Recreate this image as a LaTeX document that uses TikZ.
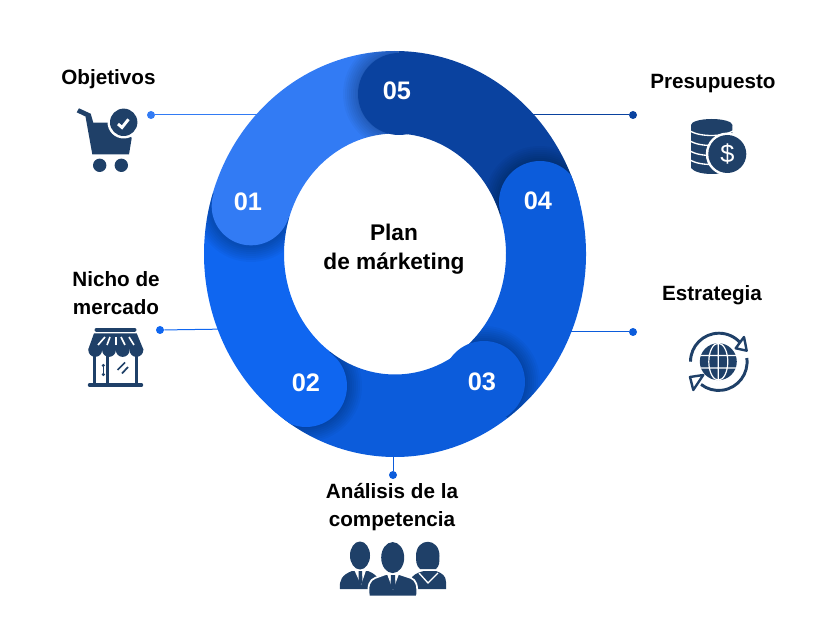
\documentclass[tikz,border=0pt]{standalone}
\usepackage{fontspec}
\setmainfont{Liberation Sans}
\usetikzlibrary{positioning,calc}
\definecolor{bandA}{HTML}{327BF4}
\definecolor{bandB}{HTML}{0F66F0}
\definecolor{bandC}{HTML}{0C5CDB}
\definecolor{bandE}{HTML}{0A429F}
\definecolor{iconblue}{HTML}{1F4068}
\tikzstyle{heading} = [align=center, inner sep=0pt, font=\bfseries\fontsize{15.5}{21}\selectfont]
\tikzstyle{title} = [align=center, inner sep=0pt, font=\bfseries\fontsize{17}{21.5}\selectfont]
\tikzstyle{number} = [inner sep=0pt, text=white, font=\bfseries\fontsize{19}{21}\selectfont]
\tikzstyle{bandcap} = [circle, inner sep=0pt, minimum size=61.5pt]
\tikzstyle{dot} = [circle, inner sep=0pt, minimum size=6pt]
\tikzstyle{line} = [draw, line width=0.75pt]
\tikzstyle{icon} = [fill=iconblue, draw=none]
% outline of one piece of the ring, start and end angle
\newcommand{\bandpath}[2]{
  (395,254) ++(#1:191 and 203) arc[start angle=#1, end angle=#2, x radius=191, y radius=203]
    -- ($(395,254)+(#2:111 and 120.5)$) arc[start angle=#2, end angle=#1, x radius=111, y radius=120.5] -- cycle
}
% soft shadow of a cap on the piece before it
\newcommand{\capshadow}[4]{
  \begin{scope}
    \clip \bandpath{#3}{#4};
    \foreach \rr in {42,44,...,56}
      \fill[black, opacity=0.03] (#1,#2) circle (\rr);
  \end{scope}
}
\begin{document}
\begin{tikzpicture}[x=0.75pt, y=-0.75pt]
    \useasboundingbox (0,0) rectangle (826,631);
    % Place dots and line ends
    \node [dot, fill=bandA] (d1) at (151,115) {};
    \node [dot, fill=bandB] (d2) at (160,330) {};
    \node [dot, fill=bandC] (d3) at (393,475) {};
    \node [dot, fill=bandC] (d4) at (633,332) {};
    \node [dot, fill=bandE] (d5) at (633,115) {};
    \coordinate (e1) at (270,115);
    \coordinate (e2) at (230,329);
    \coordinate (e3) at (393,445);
    \coordinate (e4) at (560,332);
    \coordinate (e5) at (520,115);
    % Draw edges
    \path [line, draw=bandA] (d1) -- (e1);
    \path [line, draw=bandB] (d2) -- (e2);
    \path [line, draw=bandC] (d3) -- (e3);
    \path [line, draw=bandC] (d4) -- (e4);
    \path [line, draw=bandE] (d5) -- (e5);
    % the ring
    \fill [bandA] \bandpath{197.5}{271};
    \fill [bandE] \bandpath{271}{341};
    \fill [bandC] \bandpath{341}{414};
    \fill [bandC] \bandpath{54}{126};
    \fill [bandB] \bandpath{126}{197.5};
    \capshadow{251}{206}{126}{197.5}
    \capshadow{399}{94}{197.5}{271}
    \capshadow{540}{202}{271}{341}
    \capshadow{484}{382}{341}{414}
    \capshadow{306}{386}{54}{126}
    \begin{scope}
      \clip (395,254) ellipse [x radius=191, y radius=203];
      \node [bandcap, fill=bandA, minimum size=59pt] (c1) at (251,206) {};
      \node [bandcap, fill=bandB] (c2) at (306,386) {};
      \node [bandcap, fill=bandC] (c3) at (484,382) {};
      \node [bandcap, fill=bandC] (c4) at (540,202) {};
      \node [bandcap, fill=bandE] (c5) at (399,94) {};
    \end{scope}
    \node [number] (n1) at (248,202) {01};
    \node [number] (n2) at (306,383) {02};
    \node [number] (n3) at (482,382) {03};
    \node [number] (n4) at (538,201) {04};
    \node [number] (n5) at (397,91) {05};
    % texts
    \node [title] (plan) at (394,249) {Plan\\de márketing};
    \node [heading] (t1) at (108.5,79) {Objetivos};
    \node [heading] (t2) at (116,293) {Nicho de\\mercado};
    \node [heading] (t3) at (392,507) {Análisis de la\\competencia};
    \node [heading] (t4) at (712,295) {Estrategia};
    \node [heading] (t5) at (713,84) {Presupuesto};
    % cart
    \fill [icon] (76.7,112.3) -- (79,108.3) -- (90.7,113.7) -- (93.3,122.7) -- (125,122.7) -- (131.7,138.3)
        -- (129,154.3) -- (92.3,154.3) -- (85.5,116.5) -- cycle;
    \fill [white] (123.7,122.3) circle (16.2);
    \fill [icon] (123.7,122.3) circle (13.7);
    \draw [white, line width=2.2pt] (118,124) -- (122,127.5) -- (128.5,119.3);
    \fill [icon] (99.7,165.3) circle (6.7);
    \fill [icon] (121.3,165.3) circle (6.7);
    % store
    \draw [iconblue, line width=3pt, line cap=round] (96.5,329.7) -- (134.5,329.7);
    \fill [icon] (94,333.3) -- (136.7,333.3) -- (143.3,349.3) -- (88.3,349.3) -- cycle;
    \foreach \xa/\xb in {105/98, 110/107, 115.7/115.7, 121/125, 129/134}
      \draw [white, line width=1.2pt] (\xa,337) -- (\xb,345);
    \foreach \xc in {95.2,109,122.7,136.4}
      \fill [icon] (\xc-6.9,349) -- (\xc+6.9,349) -- (\xc+6.9,350) arc[start angle=0, end angle=180, radius=6.9] -- cycle;
    \fill [icon] (93.3,356) rectangle (96.2,385);
    \fill [icon] (106,356) rectangle (108.7,385);
    \fill [icon] (135,356) rectangle (138.3,385);
    \draw [iconblue, line width=2.6pt, line cap=round] (89.5,385) -- (141.5,385);
    \draw [iconblue, line width=1.2pt] (103.3,366) -- (103.3,374);
    \fill [icon] (103.3,365.5) circle (1.7) (103.3,374.5) circle (1.7);
    \draw [iconblue, line width=1.3pt] (117.5,370) -- (125,362.5) (122,373.5) -- (128,367);
    % people
    \fill [icon] (340,589) .. controls (339,580) and (342,575) .. (352,571) -- (368,571) .. controls (378,575) and (380,580) .. (380,589) -- cycle;
    \fill [icon] (360,555.5) ellipse [x radius=10, y radius=14];
    \fill [white] (354.5,570.5) -- (366,570.5) -- (361,585) -- cycle;
    \fill [icon] (358.5,571) -- (362,571) -- (362.5,582) -- (360.5,585) -- (358.5,582) -- cycle;
    \fill [icon] (412,589) -- (412,577) .. controls (416,573) and (420,572) .. (424,571) -- (436,571)
        .. controls (442,573) and (446,576) .. (446,582) -- (446,589) -- cycle;
    \fill [icon] (416,556) .. controls (416,537) and (439.5,537) .. (439.5,556) .. controls (439.5,562) and (439.5,566) .. (436,569) -- (420,569) .. controls (416,566) and (416,560) .. (416,556) -- cycle;
    \draw [white, line width=1pt] (419,573) -- (428,583) -- (438,573);
    \fill [icon, draw=white, line width=1.3pt] (369,596.5) .. controls (367,585) and (370,580) .. (375,578)
        -- (386,574) -- (399,574) -- (411,578) .. controls (416,580) and (418,585) .. (417,596.5) -- cycle;
    \fill [icon] (392.7,557.6) ellipse [x radius=11.5, y radius=15.5];
    \fill [white] (387,574) -- (399,574) -- (393,590) -- cycle;
    \fill [icon] (391,575) -- (395,575) -- (395.5,586) -- (393,590) -- (390.5,586) -- cycle;
    % coins
    \fill [icon] (691,125) -- (691,168) .. controls (697,176) and (726,176) .. (732.4,168) -- (732.4,125) -- cycle;
    \fill [icon] (711.7,125) ellipse [x radius=20.7, y radius=6];
    \foreach \yy in {131,141,151,160}
      \draw [white, line width=1pt] (690,\yy) .. controls (700,\yy+6) and (723,\yy+6) .. (733,\yy);
    \fill [white] (727.3,154) circle (21.5);
    \fill [icon] (727.3,154) circle (19);
    \node [inner sep=0pt, text=white, font=\fontsize{19}{21}\selectfont] (dollar) at (727.3,154) {\$};
    % globe
    \fill [icon] (718.3,361.7) circle (18.5);
    \draw [white, line width=0.9pt] (718.3,343.2) -- (718.3,380.2) (700.5,355.5) -- (736,355.5) (700.5,368) -- (736,368)
        (718.3,361.7) ellipse [x radius=9.5, y radius=18.5];
    \draw [iconblue, line width=2.2pt] (690.5,361.7) arc[start angle=180, end angle=318, radius=28.5];
    \draw [iconblue, line width=2.2pt] (746.8,358) arc[start angle=-8, end angle=128, radius=28.5];
    \draw [iconblue, line width=1.8pt, fill=white, line join=round] (744,337) -- (746.7,350.7) -- (735.7,348.3) -- cycle;
    \draw [iconblue, line width=1.8pt, fill=white, line join=round] (690,377) -- (703.3,375) -- (693.3,390) -- cycle;
\end{tikzpicture}
\end{document}
